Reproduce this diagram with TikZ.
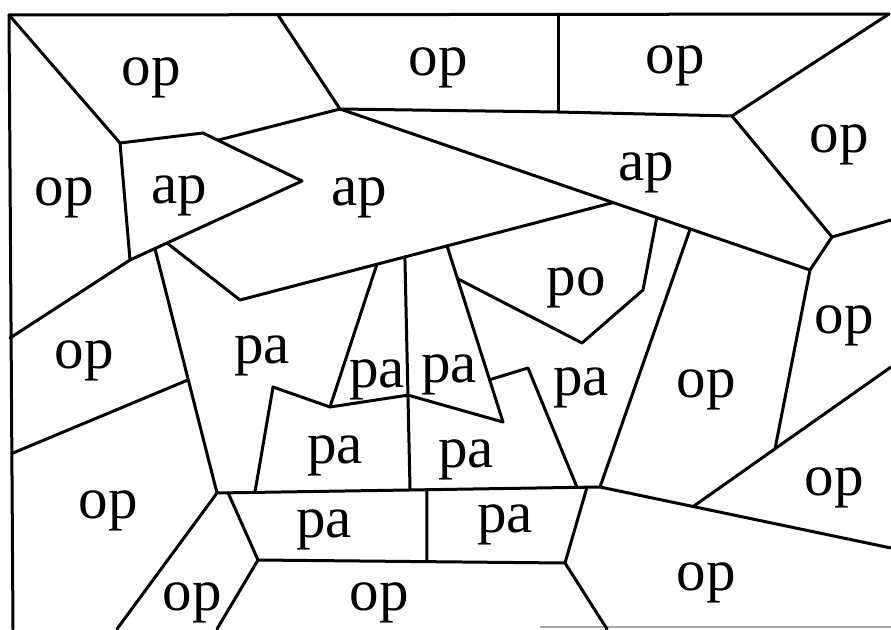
\documentclass[tikz,border=0pt]{standalone}
\usepackage{fontspec}
\setmainfont{Liberation Serif}
\usetikzlibrary{calc}
\begin{document}
\begin{tikzpicture}[x=1pt,y=-1pt,
  edge/.style={line width=3pt, line join=round, line cap=round},
  faint/.style={line width=1.4pt, gray!70},
  lbl/.style={anchor=base, inner sep=0pt, font=\fontsize{59}{59}\selectfont}]
\useasboundingbox (0,0) rectangle (891,629);
% frame points
\coordinate (TL) at (9,15);
\coordinate (TR) at (889,14);
\coordinate (BL) at (13,629);
\coordinate (FB1) at (540,627);
\coordinate (FB2) at (891,627);
% top area
\coordinate (A) at (278,15);
\coordinate (B) at (340,109);
\coordinate (C) at (558,14);
\coordinate (C2) at (558,112);
\coordinate (D) at (732,116);
\coordinate (E) at (832,237);
\coordinate (F) at (891,220);
\coordinate (G) at (810,270);
\coordinate (H) at (120,143);
\coordinate (I) at (203,133);
\coordinate (J) at (302,181);
\coordinate (K) at ($(I)!0.15!(J)$);
\coordinate (L) at (130,260);
\coordinate (M) at (10,338);
\coordinate (N) at ($(L)!0.145!(J)$);
\coordinate (O) at ($(L)!0.215!(J)$);
\coordinate (P) at (240,300);
\coordinate (Q) at ($(B)!0.581!(G)$);
\coordinate (R) at ($(B)!0.674!(G)$);
\coordinate (S) at ($(B)!0.745!(G)$);
\coordinate (T) at ($(P)!0.367!(Q)$);
\coordinate (U) at ($(P)!0.442!(Q)$);
\coordinate (V) at ($(P)!0.555!(Q)$);
\coordinate (X) at (503,422);
\coordinate (W) at ($(V)!0.186!(X)$);
\coordinate (Y) at ($(V)!0.76!(X)$);
\coordinate (Z) at (528,368);
\coordinate (PO1) at (582,343);
\coordinate (PO2) at (643,290);
% middle horizontal
\coordinate (CC) at (217,493);
\coordinate (BB) at (600,487);
\coordinate (GG) at ($(CC)!0.029!(BB)$);
\coordinate (DD) at ($(CC)!0.099!(BB)$);
\coordinate (EE) at ($(CC)!0.504!(BB)$);
\coordinate (PP) at ($(CC)!0.548!(BB)$);
\coordinate (AA) at ($(CC)!0.94!(BB)$);
\coordinate (FF) at ($(CC)!0.966!(BB)$);
\coordinate (KK) at ($(U)!0.593!(EE)$);
\coordinate (MM) at (273,387);
\coordinate (LL) at (330,407);
\coordinate (VV) at ($(N)!0.537!(CC)$);
\coordinate (M2) at (13,453);
% bottom row
\coordinate (NN) at (258,560);
\coordinate (OO) at (565,563);
\coordinate (QQ) at ($(NN)!0.55!(OO)$);
\coordinate (B1) at (117,629);
\coordinate (B2) at (217,629);
\coordinate (B3) at (607,629);
% right side
\coordinate (RE1) at (891,548);
\coordinate (RR) at ($(BB)!0.32!(RE1)$);
\coordinate (RE2) at (891,367);
\coordinate (SS) at ($(RR)!0.414!(RE2)$);

% frame
\draw[edge] (BL) -- (TL) -- (TR);
\draw[faint] (FB1) -- (FB2);
% top
\draw[edge] (A) -- (B) -- (C2) -- (D) -- (TR);
\draw[edge] (C) -- (C2);
\draw[edge] (D) -- (E) -- (F);
\draw[edge] (E) -- (G);
\draw[edge] (B) -- (G);
\draw[edge] (TL) -- (H) -- (I) -- (J) -- (L) -- (H);
\draw[edge] (K) -- (B);
\draw[edge] (L) -- (M);
\draw[edge] (O) -- (P) -- (Q);
% po
\draw[edge] (W) -- (PO1) -- (PO2) -- (R);
% pa cluster
\draw[edge] (N) -- (CC);
\draw[edge] (M2) -- (VV);
\draw[edge] (T) -- (LL);
\draw[edge] (U) -- (EE);
\draw[edge] (V) -- (X);
\draw[edge] (DD) -- (MM) -- (LL) -- (KK) -- (X);
\draw[edge] (Y) -- (Z) -- (AA);
\draw[edge] (S) -- (BB);
\draw[edge] (CC) -- (BB) -- (RE1);
\draw[edge] (RR) -- (SS) -- (RE2);
\draw[edge] (SS) -- (G);
% bottom row
\draw[edge] (GG) -- (NN) -- (OO) -- (FF);
\draw[edge] (PP) -- (QQ);
\draw[edge] (CC) -- (B1);
\draw[edge] (NN) -- (B2);
\draw[edge] (OO) -- (B3);

% labels
\node[lbl] (l1) at (151,85) {op};
\node[lbl] (l2) at (438,75) {op};
\node[lbl] (l3) at (675,73) {op};
\node[lbl] (l4) at (839,152) {op};
\node[lbl] (l5) at (64,205) {op};
\node[lbl] (l6) at (179,203) {ap};
\node[lbl] (l7) at (359,205) {ap};
\node[lbl] (l8) at (646,180) {ap};
\node[lbl] (l9) at (576,295) {po};
\node[lbl] (l10) at (844,333) {op};
\node[lbl] (l11) at (84,368) {op};
\node[lbl] (l12) at (262,363) {pa};
\node[lbl] (l13) at (377,387) {pa};
\node[lbl] (l14) at (449,382) {pa};
\node[lbl] (l15) at (581,395) {pa};
\node[lbl] (l16) at (706,397) {op};
\node[lbl] (l17) at (335,463) {pa};
\node[lbl] (l18) at (466,467) {pa};
\node[lbl] (l19) at (834,495) {op};
\node[lbl] (l20) at (108,518) {op};
\node[lbl] (l21) at (324,537) {pa};
\node[lbl] (l22) at (505,532) {pa};
\node[lbl] (l23) at (706,590) {op};
\node[lbl] (l24) at (192,610) {op};
\node[lbl] (l25) at (379,610) {op};
\end{tikzpicture}
\end{document}
